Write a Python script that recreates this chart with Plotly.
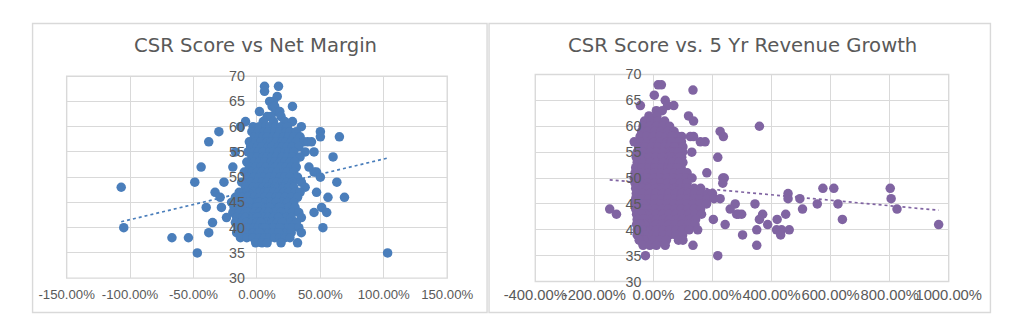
import numpy as np
import plotly.graph_objects as go

# ---------------- data: CSR score vs Net Margin (net margin in %) ----------------
nm_score_levels = [68, 67, 66, 65, 64, 63, 62, 61, 60, 59, 58, 57, 56, 55, 54, 53, 52, 51,
                   50, 49, 48, 47, 46, 45, 44, 43, 42, 41, 40, 39, 38, 37, 35]
nm_margin_rows = [
    [6, 17], [6], [16], [10, 13], [12, 14, 28], [2, 15, 18], [8, 11, 19],
    [-9, 5, 13, 22, 28],
    [-13, -3, 2, 7, 10, 15, 19, 24, 35],
    [-30, -4, 1, 6, 9, 14, 18, 23, 26, 31, 50],
    [-2, 2, 5, 8, 13, 16, 21, 25, 29, 34, 50, 65],
    [-38, -6, -1, 3, 8, 11, 15, 20, 23, 27, 31, 37, 40, 43],
    [-5, 0, 4, 9, 12, 17, 20, 24, 28, 33],
    [-17, -7, -2, 1, 5, 10, 13, 17, 22, 25, 29, 38, 45],
    [-4, 0, 5, 8, 12, 15, 20, 24, 28, 34, 60],
    [-8, -2, 2, 6, 11, 14, 18, 22, 26, 30],
    [-44, -19, -6, -1, 3, 7, 12, 15, 19, 23, 27, 31, 41],
    [-10, -4, 0, 4, 9, 12, 16, 21, 24, 29, 45, 47],
    [-7, -2, 2, 6, 10, 14, 18, 22, 26, 32, 50],
    [-49, -26, -12, -5, 0, 4, 8, 13, 16, 20, 24, 28, 35, 63],
    [-107, -9, -3, 1, 5, 9, 14, 17, 21, 25, 29, 38],
    [-33, -14, -8, -3, 1, 6, 9, 13, 17, 21, 25, 30, 34, 47],
    [-29, -17, -12, -7, -2, 2, 6, 10, 15, 18, 22, 27, 32, 56, 69],
    [-20, -14, -9, -4, 0, 4, 8, 12, 16, 20, 24, 29, -6, 2, 7, 11, 15],
    [-40, -28, -18, -13, -8, -3, 1, 5, 9, 13, 17, 21, 25, 30, 51, -10, -1, 3, 10, 18, 0],
    [-19, -14, -9, -4, 0, 4, 8, 12, 16, 20, 24, 28, 33, 45, 55, -7, -2, 2, 6, 14, 9, 19],
    [-24, -16, -11, -6, -1, 3, 7, 11, 15, 19, 23, 27, 35, -9, -3, 1, 5, 9, 13, 17, 0],
    [-35, -17, -12, -7, -2, 2, 6, 10, 14, 18, 22, 26, 31, -8, -4, 0, 4, 8, 12, 16, 20, 3],
    [-105, -15, -10, -5, 0, 4, 8, 12, 16, 20, 24, 28, 33, 52, -7, -2, 1, 5, 9, 13, 18, 6],
    [-38, -16, -11, -6, -1, 3, 7, 11, 15, 19, 23, 27, 35, -8, -3, 1, 5, 9, 13, 17, 2],
    [-67, -54, -13, -8, -3, 2, 6, 10, 14, 18, 22, 26],
    [-1, 4, 8, 19, 32],
    [-47, 103],
]

# ---------------- data: CSR score vs 5 Yr Revenue Growth (growth in %) ----------------
rg_score_levels = [68, 67, 66, 65, 64, 63, 62, 61, 60, 59, 58, 57, 56, 55, 54, 53, 52, 51,
                   50, 49, 48, 47, 46, 45, 44, 43, 42, 41, 40, 39, 38, 37, 35]
rg_growth_rows = [
    [16, 27], [134], [3], [40], [-44, 48, 69], [10, 30], [-15, 12, 119],
    [-30, -8, 15, 38, 136],
    [-35, -12, 10, 32, 55, 359],
    [-40, -18, 4, 26, 48, 70, 226],
    [-45, -22, 0, 22, 44, 66, 125, 136, 237, 60, 75, 85, 65, 96],
    [-65, -42, -20, 2, 24, 46, 68, 90, 159, 175, 58, 72, 80, 95, 88, 62],
    [-50, -28, -6, 16, 38, 60, 82, 55, 70, 78, 92, 72, 100],
    [-55, -33, -11, 11, 33, 55, 77, 99, 130, 62, 70, 84, 90, 78, 84],
    [-58, -36, -14, 8, 30, 52, 74, 96, 218, 64, 80, 88],
    [-55, -33, -11, 11, 33, 55, 77, 100, 66, 85],
    [-60, -38, -16, 6, 28, 50, 72, 94, 60, 80],
    [-62, -40, -18, 4, 26, 48, 70, 92, 114, 181],
    [-65, -43, -21, 1, 23, 45, 67, 89, 111, 131, 235, 240],
    [-62, -40, -18, 4, 26, 48, 70, 92, 114, 235],
    [-60, -38, -16, 6, 28, 50, 72, 94, 116, 138, 160, 574, 611, 802],
    [-58, -36, -14, 8, 30, 52, 74, 96, 118, 140, 162, 184, 200, 456],
    [-60, -38, -16, 6, 28, 50, 72, 94, 116, 138, 160, 182, 205, 226, 456, 496, 805],
    [-62, -40, -18, 4, 26, 48, 70, 92, 114, 136, 158, 180, 277, 344, 555, 625, -50, -35],
    [-148, -60, -38, -16, 6, 28, 50, 72, 94, 116, 138, 160, 260, 505, 825, -52, -45, -30],
    [-125, -57, -35, -13, 9, 31, 53, 75, 97, 119, 141, 163, 282, 288, 299, 370, 448,
     -50, -44, -28, -48, -40],
    [-55, -33, -11, 11, 33, 55, 77, 99, 121, 143, 203, 359, 419, 640, -48, -42, -26, -50, -36],
    [-57, -35, -13, 9, 31, 53, 75, 97, 119, 141, 243, 387, 966, -46, -52, -40, -30, -44],
    [-55, -33, -11, 11, 33, 55, 77, 99, 121, 150, 350, 417, 434, 460, -48, -42, -28, -50, -38],
    [-55, -33, -11, 11, 33, 55, 77, 99, 302, 431, -46, -40, -30, -50],
    [-45, -22, 0, 22, 44, 85, 100, -40, -32, -48],
    [-35, -12, 10, 40, 134, 350],
    [-27, 218],
]

y_ticks = [30, 35, 40, 45, 50, 55, 60, 65, 70]
nm_x_ticks = [-150, -100, -50, 0, 50, 100, 150]
nm_x_labels = ["-150.00%", "-100.00%", "-50.00%", "0.00%", "50.00%", "100.00%", "150.00%"]
rg_x_ticks = [-400, -200, 0, 200, 400, 600, 800, 1000]
rg_x_labels = ["-400.00%", "-200.00%", "0.00%", "200.00%", "400.00%", "600.00%",
               "800.00%", "1000.00%"]
title_left = "CSR Score vs Net Margin"
title_right = "CSR Score vs. 5 Yr Revenue Growth"


def flatten(levels, rows):
    xs, ys = [], []
    for lvl, row in zip(levels, rows):
        for v in row:
            xs.append(v)
            ys.append(lvl)
    return np.array(xs, float), np.array(ys, float)


nm_x, nm_y = flatten(nm_score_levels, nm_margin_rows)
rg_x, rg_y = flatten(rg_score_levels, rg_growth_rows)

BLUE, PURPLE, GRID, TXT = "#4A7EBB", "#8064A2", "#d9d9d9", "#595959"
W, H = 1024, 336

# The photographed page shows the figure slightly reduced and offset, so target
# positions (in photo pixels) are mapped back to figure pixels here.
AX, SX, AY, SY = 29.1, 0.9403, 6.7, 0.954
FS = (SX + SY) / 2


def PX(sx):
    return min(max((sx - AX) / SX, 0.6), W - 0.6) / W


def PY(sy):
    return 1 - min(max((sy - AY) / SY, 0.6), H - 0.6) / H


fig = go.Figure()


def add_panel(x, y, color, xa, ya):
    fig.add_trace(go.Scatter(x=x, y=y, mode="markers", xaxis=xa, yaxis=ya,
                             marker=dict(size=9 / FS, color=color, line=dict(width=0)),
                             hoverinfo="skip"))
    k, b = np.polyfit(x, y, 1)
    tx = np.array([x.min(), x.max()])
    fig.add_trace(go.Scatter(x=tx, y=k * tx + b, mode="lines", xaxis=xa, yaxis=ya,
                             line=dict(color=color, width=1.7, dash="dot"),
                             hoverinfo="skip"))


add_panel(nm_x, nm_y, BLUE, "x", "y")
add_panel(rg_x, rg_y, PURPLE, "x2", "y2")

FONT = "Liberation Sans, Arial, sans-serif"
# plot areas in photo pixels
L_x0, L_x1, L_yt, L_yb = 63.9, 446.0, 75.0, 277.3
R_x0, R_x1, R_yt, R_yb = 534.4, 949.5, 73.3, 280.7


def xax(x0, x1, ticks, labels, rng, anchor, fs, standoff):
    return dict(domain=[PX(x0), PX(x1)], range=rng, tickvals=ticks, ticktext=labels,
                showgrid=True, gridcolor=GRID, gridwidth=1.4, zeroline=False,
                showline=False, ticks="", tickangle=0,
                tickfont=dict(family=FONT, size=fs / FS, color=TXT), anchor=anchor,
                ticklabelstandoff=standoff, fixedrange=True)


def yax(yt, yb, pos):
    return dict(domain=[PY(yb), PY(yt)], range=[30, 70], tickvals=y_ticks,
                showgrid=True, gridcolor=GRID, gridwidth=1.4, zeroline=False,
                showline=False, ticks="",
                tickfont=dict(family=FONT, size=13.5 / FS, color=TXT),
                anchor="free", position=pos, ticklabelstandoff=12, fixedrange=True)


L_pos = PX(L_x0) + (PX(L_x1) - PX(L_x0)) * 0.5
R_pos = PX(R_x0) + (PX(R_x1) - PX(R_x0)) * (400 / 1400)

fig.update_layout(
    width=W, height=H, autosize=False, margin=dict(l=0, r=0, t=0, b=0, pad=0),
    paper_bgcolor="white", plot_bgcolor="white", showlegend=False,
    xaxis=xax(L_x0, L_x1, nm_x_ticks, nm_x_labels, [-150, 150], "y", 12.5, 7),
    yaxis=yax(L_yt, L_yb, L_pos),
    xaxis2=xax(R_x0, R_x1, rg_x_ticks, rg_x_labels, [-400, 1000], "y2", 14, 3),
    yaxis2=yax(R_yt, R_yb, R_pos),
)

shapes = []
for (x0, x1) in [(20, 486), (488, 997)]:
    shapes.append(dict(type="rect", xref="paper", yref="paper", x0=PX(x0), x1=PX(x1),
                       y0=PY(311.7), y1=PY(22.3), line=dict(color=GRID, width=1.4),
                       layer="below"))
for xr, yr in [("x domain", "y domain"), ("x2 domain", "y2 domain")]:
    shapes.append(dict(type="rect", xref=xr, yref=yr, x0=0, x1=1, y0=0, y1=1,
                       line=dict(color=GRID, width=1.4), layer="below"))
fig.update_layout(shapes=shapes)

title_font = dict(family="DejaVu Sans, sans-serif", size=18.6 / FS, color=TXT)
fig.add_annotation(text=title_left, x=PX(253), y=PY(44), xref="paper", yref="paper",
                   showarrow=False, xanchor="center", yanchor="middle", font=title_font)
fig.add_annotation(text=title_right, x=PX(742.5), y=PY(44), xref="paper", yref="paper",
                   showarrow=False, xanchor="center", yanchor="middle", font=title_font)

fig.write_html("out.html", config={"displayModeBar": False})
